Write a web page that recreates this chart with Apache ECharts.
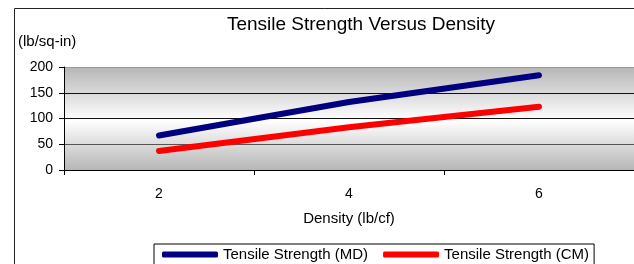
<!DOCTYPE html>
<html>
<head>
<meta charset="utf-8">
<script src="https://cdn.jsdelivr.net/npm/echarts@6/dist/echarts.min.js"></script>
<style>
  html, body { margin: 0; padding: 0; background: #fff; }
  #main { width: 634px; height: 264px; }
</style>
</head>
<body>
<div id="main"></div>
<script>
var chart = echarts.init(document.getElementById('main'), null, { renderer: 'canvas' });

// 数据
var densities = ['2', '4', '6'];
var strengthMD = [67, 132, 184];
var strengthCM = [37, 83, 123];
var seriesNames = ['Tensile Strength (MD)', 'Tensile Strength (CM)'];

var fontFamily = 'Liberation Sans, Arial, sans-serif';

chart.setOption({
    animation: false,
    textStyle: { fontFamily: fontFamily, color: '#000' },
    graphic: [{
        type: 'rect',
        shape: { x: 14.5, y: 8.5, width: 700, height: 400 },
        style: { fill: 'none', stroke: '#222', lineWidth: 1 },
        z: -10
    }],
    title: [{
        text: 'Tensile Strength Versus Density',
        left: 356,
        top: 10,
        textAlign: 'center',
        textStyle: { fontSize: 19, fontWeight: 'normal', color: '#000', fontFamily: fontFamily }
    }, {
        text: '(lb/sq-in)',
        left: 13,
        top: 29,
        textStyle: { fontSize: 15, fontWeight: 'normal', color: '#000', fontFamily: fontFamily }
    }],
    legend: {
        left: 154,
        top: 244,
        padding: [3, 5, 10, 8],
        itemGap: 15,
        itemWidth: 56,
        itemHeight: 6,
        itemTextGap: 2,
        icon: 'roundRect',
        borderColor: '#000',
        borderWidth: 1,
        backgroundColor: '#fff',
        textStyle: { fontSize: 15, color: '#000', fontFamily: fontFamily },
        data: seriesNames
    },
    grid: {
        left: 64,
        right: 0,
        top: 67,
        bottom: 94,
        show: true,
        borderWidth: 0,
        backgroundColor: new echarts.graphic.LinearGradient(0, 0, 0, 1, [
            { offset: 0, color: '#b6b6b6' },
            { offset: 0.52, color: '#ffffff' },
            { offset: 1, color: '#b6b6b6' }
        ])
    },
    xAxis: {
        type: 'category',
        data: densities,
        boundaryGap: true,
        name: 'Density (lb/cf)',
        nameLocation: 'middle',
        nameGap: 41,
        nameTextStyle: { fontSize: 15, color: '#000' },
        axisLine: { lineStyle: { color: '#000', width: 1 } },
        axisTick: { show: true, length: 5, interval: 0, lineStyle: { color: '#000' } },
        axisLabel: { fontSize: 14, color: '#000', margin: 17 },
        splitLine: { show: false }
    },
    yAxis: {
        type: 'value',
        min: 0,
        max: 200,
        interval: 50,
        axisLine: { show: true, lineStyle: { color: '#000', width: 1 } },
        axisTick: { show: true, length: 5, lineStyle: { color: '#000' } },
        axisLabel: { fontSize: 14, color: '#000', margin: 11 },
        splitLine: {
            show: true,
            lineStyle: { color: ['#000', '#555', '#111', '#111', '#999'], width: 1 }
        }
    },
    series: [{
        name: seriesNames[0],
        type: 'line',
        data: strengthMD,
        symbol: 'none',
        color: '#000080',
        lineStyle: { width: 6, cap: 'round', join: 'round' }
    }, {
        name: seriesNames[1],
        type: 'line',
        data: strengthCM,
        symbol: 'none',
        color: '#ff0000',
        lineStyle: { width: 6, cap: 'round', join: 'round' }
    }]
});
</script>
</body>
</html>
